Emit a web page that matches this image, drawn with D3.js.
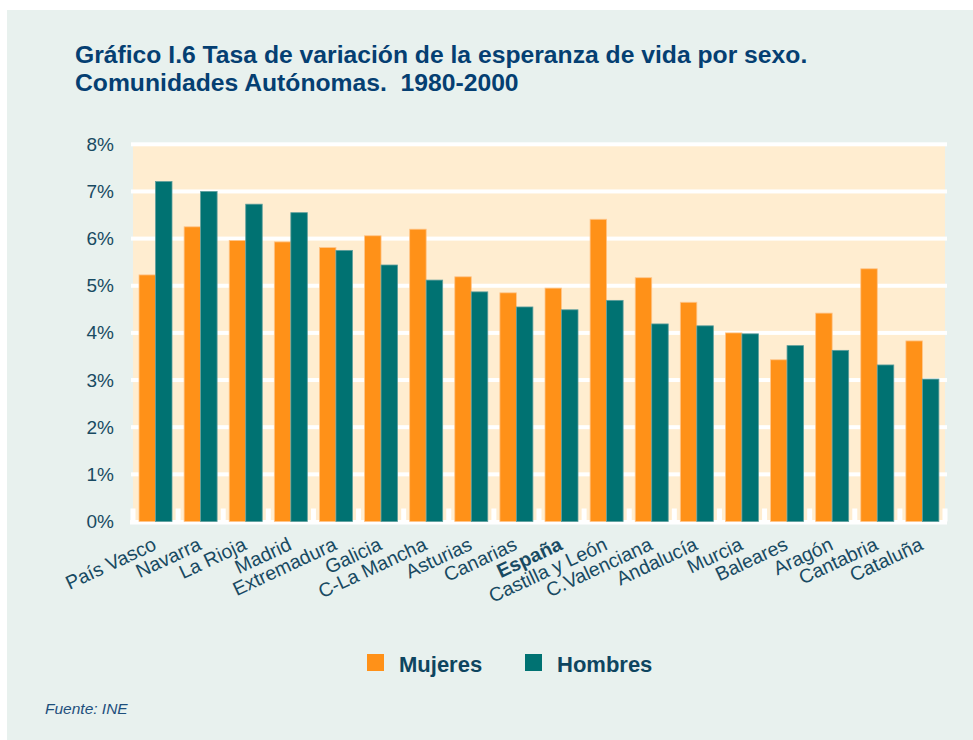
<!DOCTYPE html>
<html>
<head>
<meta charset="utf-8">
<script src="https://cdn.jsdelivr.net/npm/d3@7"></script>
<style>
  html, body { margin: 0; padding: 0; background: #fff; }
  svg { display: block; font-family: "Liberation Sans", Arial, sans-serif; }
</style>
</head>
<body>
<div id="chart"></div>
<script>
// data
var regiones = ["País Vasco", "Navarra", "La Rioja", "Madrid", "Extremadura", "Galicia",
  "C-La Mancha", "Asturias", "Canarias", "España", "Castilla y León", "C.Valenciana",
  "Andalucía", "Murcia", "Baleares", "Aragón", "Cantabria", "Cataluña"];
var mujeres = [5.23, 6.25, 5.96, 5.93, 5.81, 6.06, 6.20, 5.19, 4.85, 4.95, 6.41, 5.17,
  4.65, 4.00, 3.43, 4.42, 5.36, 3.83];
var hombres = [7.21, 7.00, 6.73, 6.55, 5.75, 5.44, 5.12, 4.87, 4.55, 4.49, 4.69, 4.19,
  4.15, 3.98, 3.73, 3.63, 3.32, 3.02];
var series = ["Mujeres", "Hombres"];
var colores = ["#FF9118", "#007272"];
var yTicks = [0, 1, 2, 3, 4, 5, 6, 7, 8];

var W = 973, H = 740;
var pLeft = 133, pRight = 945, pTop = 144.3, pBottom = 521.5;

var svg = d3.select("#chart").append("svg")
  .attr("width", W).attr("height", H);

// panel background
svg.append("rect").attr("x", 7).attr("y", 10).attr("width", W - 7).attr("height", H - 10)
  .attr("fill", "#E8F1EE");

// title
var title = svg.append("text").attr("x", 75).attr("y", 63)
  .attr("fill", "#053F72").style("font-weight", "bold").style("font-size", "24.7px")
  .style("white-space", "pre");
title.append("tspan").attr("x", 75).text("Gráfico I.6 Tasa de variación de la esperanza de vida por sexo.");
title.append("tspan").attr("x", 75).attr("dy", 28).text("Comunidades Autónomas.  1980-2000");

var x0 = d3.scaleBand().domain(regiones).range([pLeft, pRight]);
var x1 = d3.scaleBand().domain(series).range([6, 39]);
var y = d3.scaleLinear().domain([0, 8]).range([pBottom, pTop]);

// plot area
svg.append("rect").attr("x", pLeft).attr("y", pTop).attr("width", pRight - pLeft)
  .attr("height", pBottom - pTop).attr("fill", "#FFEDD0");

// white gridlines
svg.selectAll(".grid").data(yTicks.slice(1)).enter().append("rect")
  .attr("class", "grid")
  .attr("x", pLeft - 2).attr("width", pRight - pLeft + 4)
  .attr("y", function(d) { return y(d) - 2; }).attr("height", 4)
  .attr("fill", "#fff");

// baseline with small ticks between groups
svg.append("rect").attr("x", pLeft - 3).attr("y", pBottom - 1.5)
  .attr("width", pRight - pLeft + 5).attr("height", 4.5).attr("fill", "#fff");
svg.selectAll(".tk").data(d3.range(regiones.length + 1)).enter().append("rect")
  .attr("x", function(i) { return pLeft + i * x0.bandwidth() - 2.5; })
  .attr("y", pBottom - 13).attr("width", 5).attr("height", 13).attr("fill", "#fff");

// y axis
var yAxis = svg.append("g").attr("transform", "translate(" + (pLeft - 2) + ",0)")
  .call(d3.axisLeft(y).tickValues(yTicks).tickSize(0).tickPadding(17)
    .tickFormat(function(d) { return d + "%"; }));
yAxis.select(".domain").remove();
yAxis.selectAll("text").style("font-size", "19px").style("font-family", "Liberation Sans, Arial, sans-serif")
  .attr("fill", "#184A62");

// bars
var groups = svg.selectAll(".grp").data(regiones).enter().append("g")
  .attr("transform", function(d) { return "translate(" + x0(d) + ",0)"; });
groups.selectAll("rect").data(function(d, i) {
    return [{s: 0, v: mujeres[i]}, {s: 1, v: hombres[i]}];
  }).enter().append("rect")
  .attr("x", function(d) { return x1(series[d.s]); })
  .attr("width", x1.bandwidth())
  .attr("y", function(d) { return y(d.v); })
  .attr("height", function(d) { return pBottom - y(d.v); })
  .attr("fill", function(d) { return colores[d.s]; })
  .attr("stroke", function(d) { return d.s === 0 ? "#FFC58A" : "#5E9E9C"; })
  .attr("stroke-width", 0.8);

// category labels, rotated
svg.selectAll(".cat").data(regiones).enter().append("text")
  .attr("transform", function(d) {
    return "translate(" + (x0(d) + x0.bandwidth() / 2 + 2) + ",549) rotate(-25)";
  })
  .attr("text-anchor", "end")
  .attr("fill", "#184A62")
  .style("font-size", "19.5px")
  .style("font-weight", function(d) { return d === "España" ? "bold" : "normal"; })
  .text(function(d) { return d; });

// legend
var leg = svg.selectAll(".leg").data(series).enter().append("g")
  .attr("transform", function(d, i) { return "translate(" + (367 + i * 158) + ",654)"; });
leg.append("rect").attr("width", 17).attr("height", 17)
  .attr("fill", function(d, i) { return colores[i]; });
leg.append("text").attr("x", 32).attr("y", 17.5)
  .attr("fill", "#0E4560").style("font-weight", "bold").style("font-size", "22px")
  .text(function(d) { return d; });

// source
svg.append("text").attr("x", 45).attr("y", 714)
  .attr("fill", "#1D4F7C").style("font-style", "italic").style("font-size", "15.5px")
  .text("Fuente: INE");
</script>
</body>
</html>
